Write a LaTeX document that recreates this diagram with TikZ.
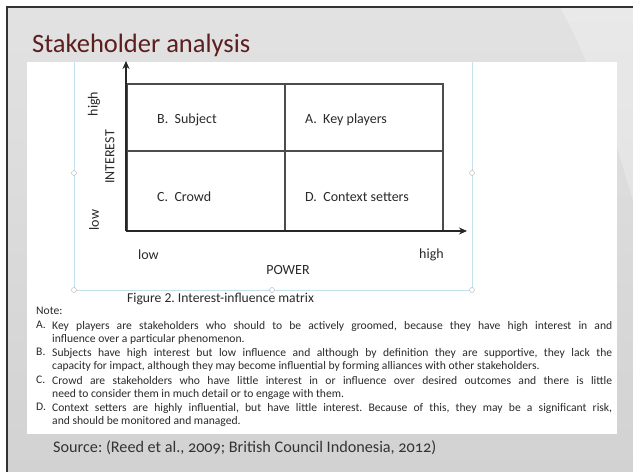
\documentclass[tikz,border=0pt]{standalone}
\usepackage{fontspec}
\setmainfont{Carlito}
\usetikzlibrary{arrows.meta,positioning}

\definecolor{titlered}{HTML}{5C1E1E}
\definecolor{slidetop}{HTML}{E2E2E2}
\definecolor{slidebottom}{HTML}{D2D2D2}
\definecolor{frameblue}{HTML}{C4E0EC}
\definecolor{ink}{HTML}{2A2A2A}

\frenchspacing

\begin{document}
\begin{tikzpicture}[x=1pt,y=-1pt]
  \tikzstyle{axis}=[draw=black!85,line width=1.1pt,-{Stealth[length=8pt,width=7pt]}]
  \tikzstyle{grid line}=[draw=black!70,line width=1.1pt]
  \tikzstyle{cell}=[anchor=west,inner sep=0pt,font=\fontsize{14}{16}\selectfont,text=ink]
  \tikzstyle{handle}=[circle,draw=black!30,fill=white,inner sep=0pt,minimum size=5pt]
  \tikzstyle{item}=[anchor=north west,inner sep=0pt,font=\fontsize{11.6}{13.6}\selectfont,text=ink]
  \tikzstyle{item text}=[item,text width=560pt,align=justify]

  \useasboundingbox (0,0) rectangle (633,472);

  % slide background and border
  \fill[white] (0,0) rectangle (633,472);
  \shade[top color=slidetop,bottom color=slidebottom] (7,7) rectangle (633,472);
  \fill[white,opacity=0.25] (560,7) .. controls (600,80) and (620,160) .. (633,200) -- (633,7) -- cycle;
  \draw[black!80,line width=1.3pt] (7,472) -- (7,7) -- (633,7);

  % title
  \node[anchor=base west,inner sep=0pt,text=titlered,font=\fontsize{26.5}{30}\selectfont] (title) at (32,52) {Stakeholder analysis};

  % pasted figure
  \fill[white] (27,62) rectangle (617,434);
  \draw[frameblue,line width=0.8pt] (74,62) -- (74,290) -- (472,290) -- (472,62);
  \node[handle] (h1) at (74,173) {};
  \node[handle] (h2) at (472,173) {};
  \node[handle] (h3) at (74,290) {};
  \node[handle] (h4) at (272,290) {};
  \node[handle] (h5) at (472,290) {};

  % interest / power matrix
  \coordinate (origin) at (126,231);
  \coordinate (ytip) at (126,61);
  \coordinate (xtip) at (467,231);
  \coordinate (tl) at (127,84);
  \coordinate (br) at (443,231);
  \draw[grid line] (tl) rectangle (br);
  \draw[grid line] (127,151) -- (443,151);
  \draw[grid line] (285,84) -- (285,231);
  \draw[axis] (origin) -- (ytip);
  \draw[axis] (origin) -- (xtip);

  \node[cell] (B) at (157,120) {B.\ \ Subject};
  \node[cell] (A) at (305,120) {A.\ \ Key players};
  \node[cell] (C) at (157,197) {C.\ \ Crowd};
  \node[cell] (D) at (305,197) {D.\ \ Context setters};

  \node[cell,anchor=center,rotate=90] (yhigh) at (94,104) {high};
  \node[cell,anchor=center,rotate=90] (ylabel) at (110,157) {INTEREST};
  \node[cell,anchor=center,rotate=90] (ylow) at (94,220) {low};
  \node[cell] (xlow) at (138,255) {low};
  \node[cell] (xhigh) at (419,255) {high};
  \node[cell,anchor=center] (xlabel) at (288,270) {POWER};
  \node[cell,font=\fontsize{13.6}{15}\selectfont] (caption) at (127,299) {Figure 2. Interest-influence matrix};

  % notes under the figure
  \node[item] (note) at (36,307) {Note:};
  \node[item] (la) at (36,321) {A.};
  \node[item text] (ta) at (52,321) {Key players are stakeholders who should to be actively groomed, because they have high interest in and\linebreak influence over a particular phenomenon.};
  \node[item] (lb) at (36,348) {B.};
  \node[item text] (tb) at (52,348) {Subjects have high interest but low influence and although by definition they are supportive, they lack the\linebreak capacity for impact, although they may become influential by forming alliances with other stakeholders.};
  \node[item] (lc) at (36,376) {C.};
  \node[item text] (tc) at (52,376) {Crowd are stakeholders who have little interest in or influence over desired outcomes and there is little\linebreak need to consider them in much detail or to engage with them.};
  \node[item] (ld) at (36,403) {D.};
  \node[item text] (td) at (52,403) {Context setters are highly influential, but have little interest. Because of this, they may be a significant risk,\linebreak and should be monitored and managed.};

  % source line on the slide
  \node[anchor=base west,inner sep=0pt,text=black!80,font=\fontsize{16.2}{19}\selectfont\addfontfeatures{Numbers=OldStyle}] (source) at (53,452) {Source: (Reed et al., 2009; British Council Indonesia, 2012)};
\end{tikzpicture}
\end{document}
